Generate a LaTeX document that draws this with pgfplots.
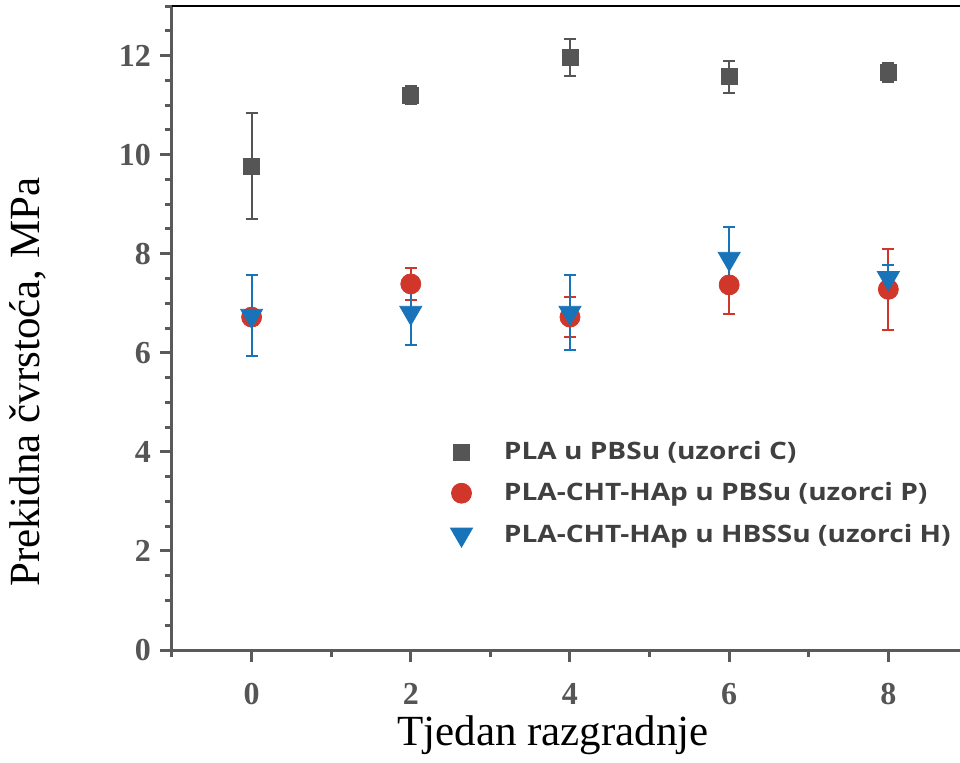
\documentclass[border=0pt]{standalone}
\usepackage{pgfplots}
\pgfplotsset{compat=1.18}
\usepackage{fontspec}
\setmainfont{Liberation Serif}
\newfontfamily\legfont{Open Sans}[FakeStretch=1.17]
\definecolor{cgray}{RGB}{85,85,85}
\definecolor{cred}{RGB}{208,55,42}
\definecolor{cblue}{RGB}{25,115,185}
\definecolor{spine}{RGB}{90,90,90}
\definecolor{legtext}{RGB}{64,64,64}
\definecolor{ticktext}{RGB}{85,85,85}
\pgfplotsset{myleg/.style={legend image code/.code={\draw[mark repeat=2,mark phase=2,##1] plot coordinates {(0cm,0cm) (0.3cm,0cm) (0.6cm,0cm)}; \path (0.3cm-7pt,0pt) (0.3cm+19pt,0pt);}}}
\begin{document}
\begin{tikzpicture}
\begin{axis}[
  scale only axis, width=394pt, height=322pt,
  at={(0,0)}, anchor=south west,
  xmin=-1, xmax=8.9, ymin=0, ymax=13,
  clip=false,
  axis x line*=bottom, axis y line*=left,
  axis line style={spine, line width=1.5pt, -},
  xtick={0,2,4,6,8}, minor xtick={-1,1,3,5,7},
  ytick={0,2,4,6,8,10,12}, minor ytick={0,0.5,...,13},
  tick align=outside,
  major tick length=6pt, minor tick length=3.5pt,
  every tick/.style={spine, line width=1.5pt},
  /pgf/number format/assume math mode=true,
  ticklabel style={font=\bfseries\fontsize{16}{16}\selectfont, text=ticktext},
  xticklabel style={yshift=-7pt},
  yticklabel style={xshift=-1pt},
  xlabel={Tjedan razgradnje},
  ylabel={Prekidna čvrstoća, MPa},
  xlabel style={font=\fontsize{21.5}{24}\selectfont, at={(axis description cs:0.4835,-0.133)}, anchor=center},
  ylabel style={font=\fontsize{21.5}{24}\selectfont, at={(axis description cs:-0.183,0.416)}, anchor=center},
  legend style={at={(rel axis cs:0.341,0.337)}, anchor=north west, draw=none, fill=none,
    font=\legfont\bfseries\fontsize{12}{14}\selectfont, text=legtext, row sep=6pt},
  legend cell align=left,
]
\addplot[only marks, myleg, mark=square*, mark size=4pt, color=cgray,
  error bars/.cd, y dir=both, y explicit,
  error bar style={line width=1pt, cgray},
  error mark options={mark size=3pt, line width=1pt, rotate=90, cgray}]
  coordinates {
  (0,9.77) +- (0,1.07)
  (2,11.20) +- (0,0.18)
  (4,11.96) +- (0,0.38)
  (6,11.57) +- (0,0.32)
  (8,11.66) +- (0,0.19)
  };
\addlegendentry{PLA u PBSu (uzorci C)}
\addplot[only marks, myleg, mark=*, mark size=5pt, color=cred,
  error bars/.cd, y dir=both, y explicit,
  error bar style={line width=1pt, cred},
  error mark options={mark size=3pt, line width=1pt, rotate=90, cred}]
  coordinates {
  (0,6.72) +- (0,0.15)
  (2,7.39) +- (0,0.33)
  (4,6.72) +- (0,0.40)
  (6,7.37) +- (0,0.59)
  (8,7.28) +- (0,0.82)
  };
\addlegendentry{PLA-CHT-HAp u PBSu (uzorci P)}
\addplot[only marks, myleg, mark=triangle*, mark size=6.35pt, color=cblue, mark options={rotate=180},
  error bars/.cd, y dir=both, y explicit,
  error bar style={line width=1pt, cblue},
  error mark options={mark size=3pt, line width=1pt, rotate=90, cblue}]
  coordinates {
  (0,6.75) +- (0,0.82)
  (2,6.81) +- (0,0.65)
  (4,6.81) +- (0,0.76)
  (6,7.90) +- (0,0.64)
  (8,7.51) +- (0,0.26)
  };
\addlegendentry{PLA-CHT-HAp u HBSSu (uzorci H)}
\draw[black, line width=1.2pt] (rel axis cs:0,1) -- (rel axis cs:1,1);
\end{axis}
\pgfresetboundingbox
\useasboundingbox (-86pt,-56pt) rectangle (394pt,325pt);
\end{tikzpicture}
\end{document}
